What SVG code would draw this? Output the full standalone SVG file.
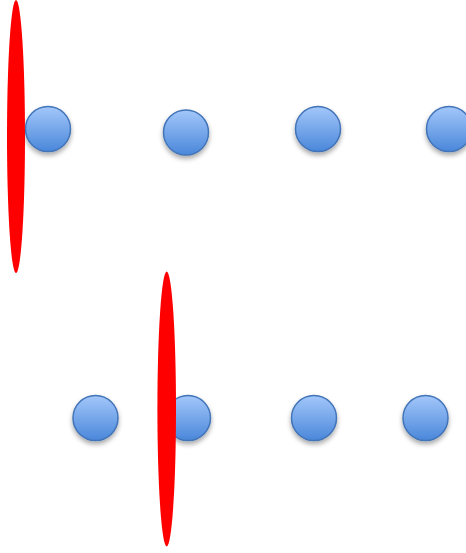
<svg xmlns="http://www.w3.org/2000/svg" width="466" height="553" viewBox="0 0 466 553">
<defs>
<linearGradient id="bg" x1="0" y1="0" x2="0" y2="1">
<stop offset="0" stop-color="#a3c7fa"/>
<stop offset="1" stop-color="#4a87da"/>
</linearGradient>
<filter id="sh" x="-50%" y="-50%" width="200%" height="200%">
<feGaussianBlur in="SourceAlpha" stdDeviation="2.5"/>
<feOffset dx="0" dy="3" result="b"/>
<feComponentTransfer><feFuncA type="linear" slope="0.35"/></feComponentTransfer>
<feMerge><feMergeNode/><feMergeNode in="SourceGraphic"/></feMerge>
</filter>
</defs>
<style>
.n{fill:url(#bg);stroke:#4274b8;stroke-width:1.5;filter:url(#sh)}
.r{fill:#ff0000;stroke:none}
</style>
<rect width="466" height="553" fill="#ffffff"/>
<g id="n1"><circle class="n" cx="48" cy="129" r="22.5"/></g>
<g id="n2"><circle class="n" cx="186" cy="132.5" r="22.5"/></g>
<g id="n3"><circle class="n" cx="318" cy="129" r="22.5"/></g>
<g id="n4"><circle class="n" cx="449" cy="129" r="22.5"/></g>
<g id="n5"><circle class="n" cx="95.5" cy="418" r="22.5"/></g>
<g id="n6"><circle class="n" cx="188" cy="418" r="22.5"/></g>
<g id="n7"><circle class="n" cx="314" cy="418" r="22.5"/></g>
<g id="n8"><circle class="n" cx="425.5" cy="418" r="22.5"/></g>
<g id="bar1"><ellipse class="r" cx="16" cy="136.5" rx="9" ry="136.5"/></g>
<g id="bar2"><ellipse class="r" cx="166.7" cy="409" rx="9.3" ry="137.5"/></g>
<g id="connectors"></g>
</svg>
